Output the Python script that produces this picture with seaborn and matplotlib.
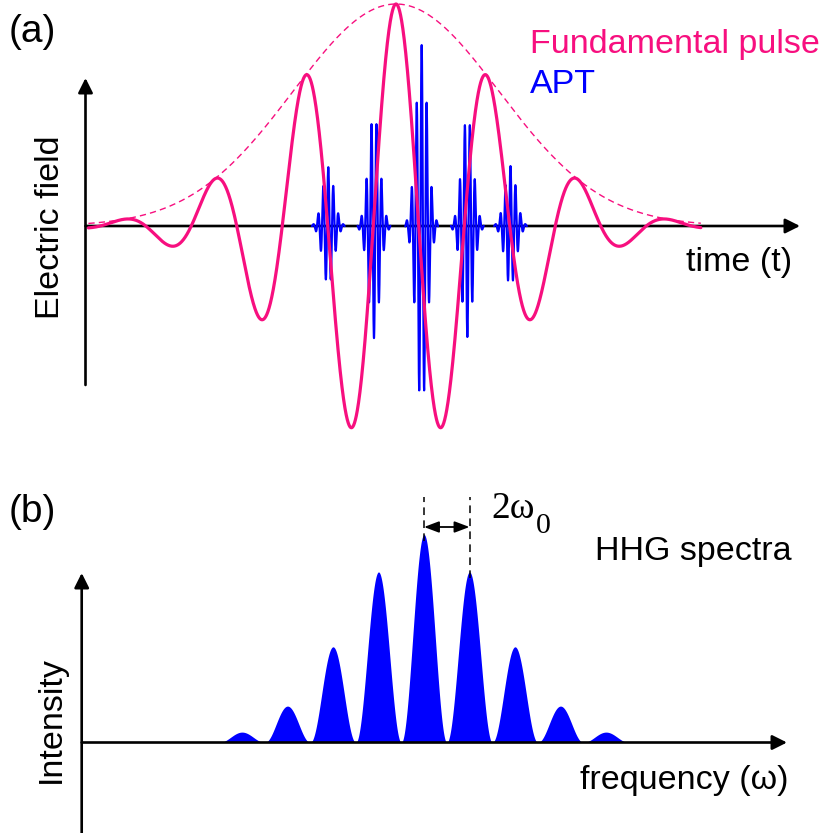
import numpy as np
import pandas as pd
import matplotlib
matplotlib.use("Agg")
import matplotlib.pyplot as plt
import seaborn as sns

# ---------------- data ----------------
# (a) fundamental pulse (time in optical cycles, field normalised to peak)
pulse_peak = 1.0
pulse_tau = 1.60              # 1/e half-width of Gaussian envelope [cycles]
pulse_span = [-3.38, 3.35]    # drawn time range [cycles]

# attosecond pulse train (APT) bursts
burst_times = [-0.744, -0.242, 0.282, 0.784, 1.258]
burst_amps = [0.265, 0.505, 0.815, 0.50, 0.27]
burst_signs = [1, -1, 1, -1, 1]
burst_width = 0.088           # 1/e half-width of each burst [cycles]
burst_period = 0.055          # XUV carrier period [cycles]

# (b) HHG spectrum (harmonic order, normalised intensity)
harmonic_orders = [13, 15, 17, 19, 21, 23, 25, 27, 29]
harmonic_heights = [0.05, 0.175, 0.46, 0.82, 1.0, 0.82, 0.46, 0.175, 0.05]
spacing_orders = [21, 23]     # peaks marked with the 2*omega0 arrow

# ---------------- styling ----------------
PINK = "#F70F7F"
BLUE = "#0000FF"
W, H = 827, 833

sns.set_theme(style="white")
plt.rcParams["font.family"] = ["Liberation Sans", "DejaVu Sans"]
plt.rcParams["text.color"] = "black"

fig = plt.figure(figsize=(W / 100, H / 100), dpi=100)
fig.patch.set_facecolor("white")


def fx(x):
    return x / W


def fy(y):
    return 1 - y / H


# ---------------- panel (a) ----------------
axa = fig.add_axes([0, (H - 440) / H, 1, 440 / H])
axa.set_xlim(-396 / 91, 431 / 91)
axa.set_ylim((226 - 440) / 222, 226 / 222)
axa.axis("off")

t = np.linspace(pulse_span[0], pulse_span[1], 4000)
env = pulse_peak * np.exp(-(t / pulse_tau) ** 2)
field = env * np.cos(2 * np.pi * t)

arrow_kw = dict(arrowstyle="-|>", color="black", lw=1.9, mutation_scale=22,
                shrinkA=0, shrinkB=0)
t_axis = (85.5 - 396) / 91
axa.annotate("", xy=(t_axis, (226 - 78) / 222), xytext=(t_axis, (226 - 385) / 222),
             arrowprops=arrow_kw, zorder=1)
axa.annotate("", xy=((800 - 396) / 91, 0), xytext=(t_axis, 0),
             arrowprops=arrow_kw, zorder=1)

for tc, a, s in zip(burst_times, burst_amps, burst_signs):
    tb = np.linspace(tc - 0.18, tc + 0.18, 1500)
    yb = s * a * np.exp(-((tb - tc) / burst_width) ** 2) * np.cos(2 * np.pi * (tb - tc) / burst_period)
    sns.lineplot(x=tb, y=yb, ax=axa, color=BLUE, lw=1.55, sort=False,
                 estimator=None, zorder=3)

sns.lineplot(x=t, y=env, ax=axa, color=PINK, lw=1.0, linestyle=(0, (4.5, 3)),
             sort=False, estimator=None, zorder=2)
sns.lineplot(x=t, y=field, ax=axa, color=PINK, lw=2.3, sort=False,
             estimator=None, zorder=4)

fs = 24.5
fig.text(fx(9), fy(42), "(a)", fontsize=28, ha="left", va="baseline")
fig.text(fx(51), fy(227), "Electric field", fontsize=fs, rotation=90,
         ha="center", va="center")
fig.text(fx(530), fy(52.5), "Fundamental pulse", fontsize=fs, color=PINK,
         ha="left", va="baseline")
fig.text(fx(530), fy(93), "APT", fontsize=fs, color=BLUE, ha="left", va="baseline")
fig.text(fx(686), fy(271), "time (t)", fontsize=fs, ha="left", va="baseline")

# ---------------- panel (b) ----------------
axb = fig.add_axes([0, 0, 1, 393 / H])
q0, dq = 21, 22.75
axb.set_xlim(q0 - 424 / dq, q0 + 403 / dq)
axb.set_ylim((742.5 - 833) / 208, (742.5 - 440) / 208)
axb.axis("off")

q = np.linspace(min(harmonic_orders) - 1, max(harmonic_orders) + 1, 3000)
spec = np.zeros_like(q)
for qk, hk in zip(harmonic_orders, harmonic_heights):
    m = np.abs(q - qk) <= 1
    spec[m] += hk * np.cos(np.pi * (q[m] - qk) / 2) ** 2
axb.fill_between(q, 0, spec, color=BLUE, lw=0, zorder=2)

q_axis = q0 + (81.7 - 424) / dq
axb.annotate("", xy=(q_axis, (742.5 - 573) / 208), xytext=(q_axis, (742.5 - 840) / 208),
             arrowprops=arrow_kw, zorder=3)
axb.annotate("", xy=(q0 + (787 - 424) / dq, 0), xytext=(q_axis, 0),
             arrowprops=arrow_kw, zorder=3)

top_i = (742.5 - 497) / 208
for qk in spacing_orders:
    hk = harmonic_heights[harmonic_orders.index(qk)]
    axb.plot([qk, qk], [hk - 0.03, top_i], color="black", lw=1.1,
             linestyle=(0, (5, 3.5)), zorder=4)
axb.annotate("", xy=(spacing_orders[1], (742.5 - 527) / 208),
             xytext=(spacing_orders[0], (742.5 - 527) / 208),
             arrowprops=dict(arrowstyle="<|-|>,head_length=0.45,head_width=0.17",
                             color="black", lw=1.3, mutation_scale=20,
                             shrinkA=0, shrinkB=0), zorder=4)

fig.text(fx(9), fy(522), "(b)", fontsize=28, ha="left", va="baseline")
fig.text(fx(51), fy(720), "Intensity", fontsize=fs, rotation=90,
         ha="center", va="center")
fig.text(fx(491), fy(518), "2ω", fontsize=27, family="Liberation Serif",
         ha="left", va="baseline")
fig.text(fx(536), fy(533), "0", fontsize=21.5, family="Liberation Serif",
         ha="left", va="baseline")
fig.text(fx(595), fy(560), "HHG spectra", fontsize=fs, ha="left", va="baseline")
fig.text(fx(580), fy(789), "frequency (ω)", fontsize=fs, ha="left", va="baseline")

fig.savefig("out.png", dpi=100, facecolor="white")
